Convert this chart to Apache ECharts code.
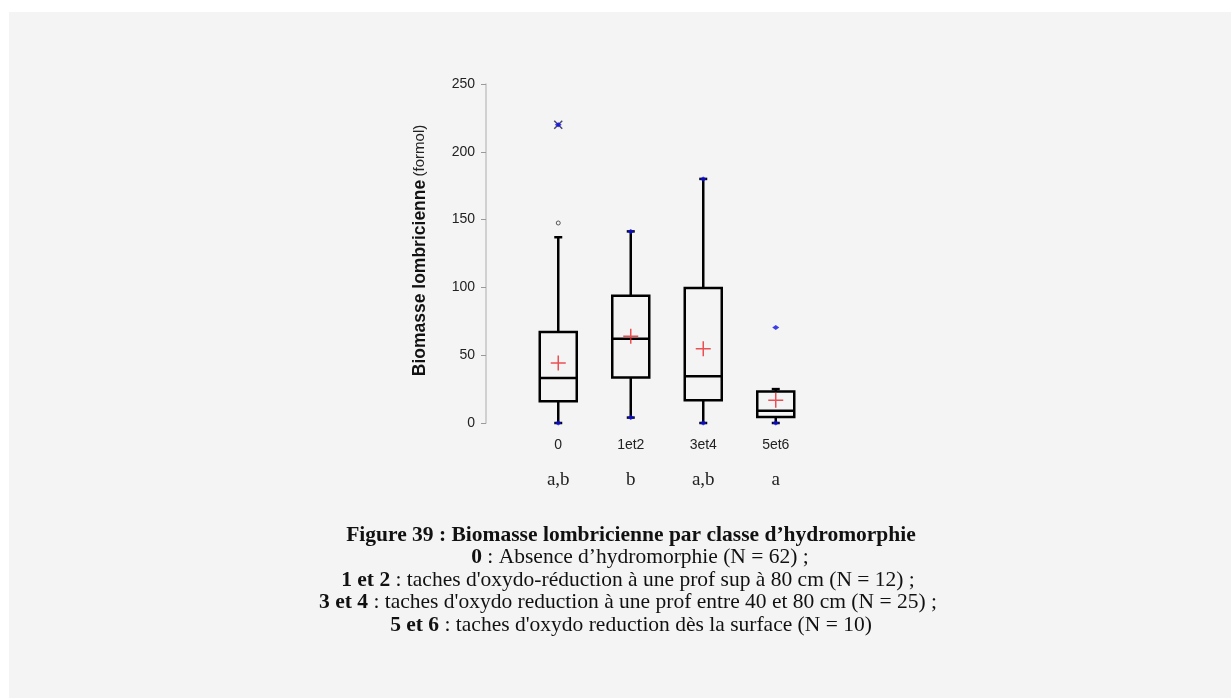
<!DOCTYPE html>
<html><head><meta charset="utf-8">
<script src="https://cdn.jsdelivr.net/npm/echarts@6/dist/echarts.min.js"></script>
<style>html,body{margin:0;padding:0;background:#fff}#c{width:1231px;height:698px}</style>
</head><body><div id="c"></div><script>
// ---- data ----
const categories = ['0', '1et2', '3et4', '5et6'];
const groupLetters = ['a,b', 'b', 'a,b', 'a'];
const whiskerLow = [0, 4, 0, 0];
const q1 = [16, 33.6, 16.7, 4.4];
const median = [33.2, 62.2, 34.4, 9.1];
const q3 = [67.1, 93.9, 99.6, 23.3];
const whiskerHigh = [137, 141.3, 180, 25];
const means = [44.2, 63.9, 54.8, 16.7];
const minima = [0, 4, 0, 0];
const maxima = [220, 141.3, 180, 70.5];
const outliers = [[0, 147.5]];
const extremes = [[0, 220]];
const yTicks = [0, 50, 100, 150, 200, 250];
const captionLines = [
  '{b|Figure 39 : Biomasse lombricienne par classe d\u2019hydromorphie}',
  '{b|0} : Absence d\u2019hydromorphie (N = 62) ;',
  '{b|1 et 2} : taches d\'oxydo-réduction à une prof sup à 80 cm (N = 12) ;',
  '{b|3 et 4} : taches d\'oxydo reduction à une prof entre 40 et 80 cm (N = 25) ;',
  '{b|5 et 6} : taches d\'oxydo reduction dès la surface (N = 10)'
];

// ---- chart ----
const chart = echarts.init(document.getElementById('c'));
const boxData = categories.map((c, i) => [i, whiskerLow[i], q1[i], median[i], q3[i], whiskerHigh[i]]);
const serif = '"Liberation Serif", "Times New Roman", serif';
const sans = '"Liberation Sans", Arial, sans-serif';

const captionX = [631, 640, 628, 628, 631];
const captionY = [535, 557.5, 580, 602.5, 625];
const capSize = 21.5;

const option = {
  backgroundColor: '#ffffff',
  animation: false,
  graphic: [
    { type: 'rect', z: -100, silent: true, shape: { x: 9, y: 12, width: 1231, height: 698 }, style: { fill: '#f4f4f4' } }
  ].concat(captionLines.map((t, i) => ({
    type: 'text', x: captionX[i], y: captionY[i], silent: true,
    style: {
      text: t, align: 'center', verticalAlign: 'middle',
      font: capSize + 'px ' + serif, fill: '#111',
      rich: { b: { fontWeight: 'bold', fontSize: capSize, fontFamily: serif, fill: '#111' } }
    }
  }))),
  grid: { left: 522, top: 84, width: 290, height: 339 },
  xAxis: [
    {
      type: 'category', data: categories, position: 'bottom',
      axisLine: { show: false }, axisTick: { show: false },
      axisLabel: { fontSize: 14, color: '#222', fontFamily: sans, margin: 15 }
    },
    {
      type: 'category', data: groupLetters, position: 'bottom', offset: 33,
      axisLine: { show: false }, axisTick: { show: false },
      axisLabel: { fontSize: 19, color: '#222', fontFamily: serif, margin: 15 }
    }
  ],
  yAxis: {
    type: 'value', min: yTicks[0], max: yTicks[yTicks.length - 1], interval: 50, offset: 36,
    axisLine: { show: true, lineStyle: { color: '#c4c4c4', width: 1.5 } },
    axisTick: { show: true, length: 5, lineStyle: { color: '#9a9a9a' } },
    splitLine: { show: false },
    axisLabel: { fontSize: 14, color: '#222', fontFamily: sans, margin: 11 },
    name: '{b|Biomasse lombricienne} {n|(formol)}',
    nameLocation: 'middle', nameGap: 57, nameRotate: 90,
    nameTextStyle: {
      padding: [0, 0, 0, 6],
      rich: {
        b: { fontSize: 17.5, fontWeight: 'bold', fontFamily: sans, color: '#111' },
        n: { fontSize: 15, fontFamily: sans, color: '#222' }
      }
    }
  },
  series: [
    {
      type: 'custom', data: boxData, encode: { x: 0, y: [1, 2, 3, 4, 5] }, z: 3,
      renderItem(params, api) {
        const i = api.value(0);
        const x = api.coord([i, 0])[0];
        const yLo = api.coord([i, api.value(1)])[1];
        const yQ1 = api.coord([i, api.value(2)])[1];
        const yMed = api.coord([i, api.value(3)])[1];
        const yQ3 = api.coord([i, api.value(4)])[1];
        const yHi = api.coord([i, api.value(5)])[1];
        const hw = 18.5, cap = 4;
        const st = { stroke: '#000', lineWidth: 2.5, fill: 'none' };
        return {
          type: 'group', children: [
            { type: 'line', shape: { x1: x, y1: yLo, x2: x, y2: yQ1 }, style: st },
            { type: 'line', shape: { x1: x, y1: yQ3, x2: x, y2: yHi }, style: st },
            { type: 'line', shape: { x1: x - cap, y1: yHi, x2: x + cap, y2: yHi }, style: st },
            { type: 'line', shape: { x1: x - cap, y1: yLo, x2: x + cap, y2: yLo }, style: st },
            { type: 'rect', shape: { x: x - hw, y: yQ3, width: hw * 2, height: yQ1 - yQ3 }, style: st },
            { type: 'line', shape: { x1: x - hw, y1: yMed, x2: x + hw, y2: yMed }, style: st }
          ]
        };
      }
    },
    {
      type: 'scatter', xAxisIndex: 0, z: 4,
      data: categories.map((c, i) => [i, means[i]]),
      symbol: 'path://M0,7L14,7M7,0L7,14', symbolSize: 15,
      itemStyle: { color: 'rgba(0,0,0,0)', borderColor: '#e8262c', borderWidth: 1.5 }
    },
    {
      type: 'scatter', z: 5,
      data: extremes,
      symbol: 'path://M0,0L10,10M10,0L0,10', symbolSize: 8,
      itemStyle: { color: 'rgba(0,0,0,0)', borderColor: '#1a1a50', borderWidth: 1.5 }
    },
    {
      type: 'scatter', z: 6,
      data: categories.map((c, i) => [i, minima[i]]).concat(categories.map((c, i) => [i, maxima[i]])),
      symbol: 'diamond', symbolSize: [7, 5],
      itemStyle: { color: '#1010e6' }
    },
    {
      type: 'scatter', z: 5,
      data: outliers,
      symbol: 'circle', symbolSize: 4,
      itemStyle: { color: '#f4f4f4', borderColor: '#333', borderWidth: 1 }
    }
  ]
};
chart.setOption(option);
</script></body></html>
